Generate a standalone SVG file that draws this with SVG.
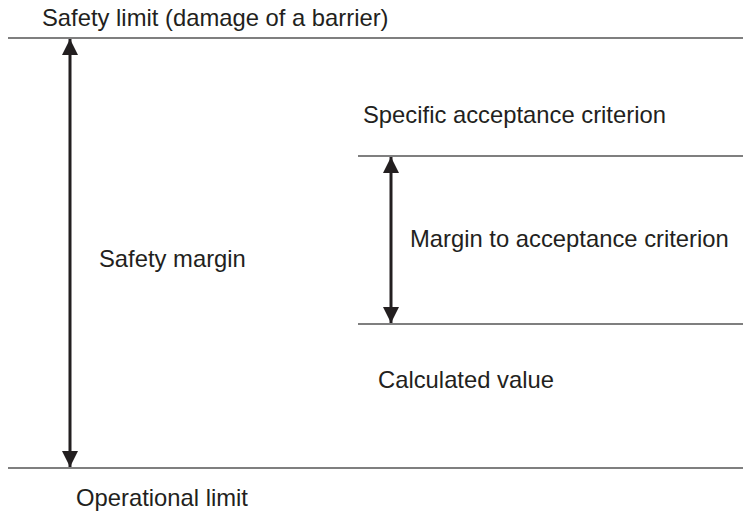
<svg xmlns="http://www.w3.org/2000/svg" width="751" height="512" viewBox="0 0 751 512">
<style>
text{font-family:"Liberation Sans",Arial,sans-serif;font-size:23.8px;fill:#231f20}
.lim{stroke:#555;stroke-width:1.3;fill:none}
.arr{stroke:#231f20;stroke-width:3;fill:none}
</style>
<defs>
<marker id="ah" viewBox="0 0 10 10" refX="10" refY="5" markerWidth="16" markerHeight="16" markerUnits="userSpaceOnUse" orient="auto-start-reverse">
<path d="M0,0 L10,5 L0,10 Z" fill="#231f20"/>
</marker>
</defs>
<g id="connectors">
<line class="lim" x1="8" y1="38" x2="743" y2="38"/>
<line class="lim" x1="8" y1="468" x2="743" y2="468"/>
<line class="lim" x1="358" y1="156" x2="743" y2="156"/>
<line class="lim" x1="358" y1="324" x2="743" y2="324"/>
<line class="arr" x1="70" y1="39" x2="70" y2="467" marker-start="url(#ah)" marker-end="url(#ah)"/>
<line class="arr" x1="391" y1="157" x2="391" y2="323" marker-start="url(#ah)" marker-end="url(#ah)"/>
</g>
<g id="safety-limit"><text x="42" y="26">Safety limit (damage of a barrier)</text></g>
<g id="specific"><text x="363" y="123">Specific acceptance criterion</text></g>
<g id="margin-acc"><text x="410" y="247">Margin to acceptance criterion</text></g>
<g id="safety-margin"><text x="99" y="267">Safety margin</text></g>
<g id="calculated"><text x="378" y="388">Calculated value</text></g>
<g id="operational"><text x="76" y="506">Operational limit</text></g>
</svg>
